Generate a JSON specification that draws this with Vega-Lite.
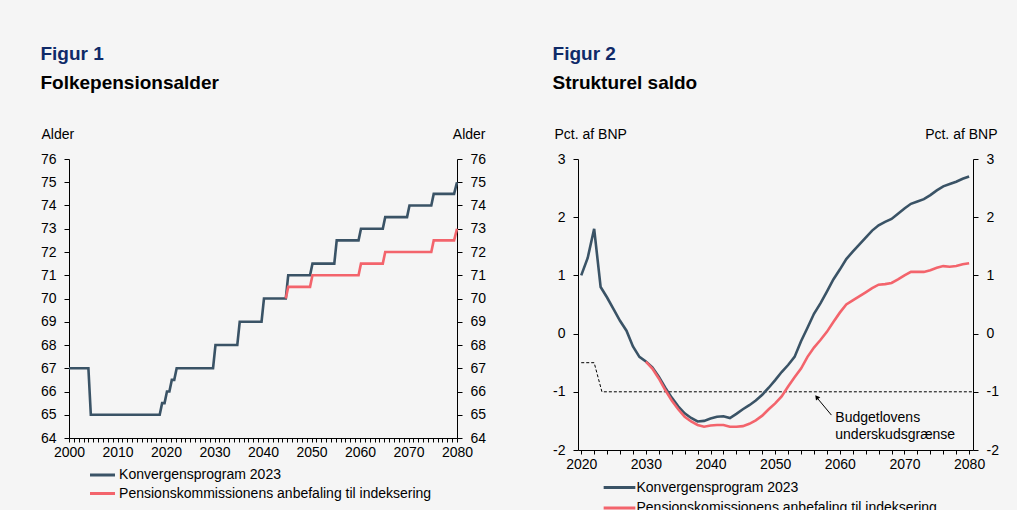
{
  "$schema": "https://vega.github.io/schema/vega-lite/v6.json",
  "padding": {"left": 40, "top": 45, "right": 20, "bottom": 0},
  "background": "#f5f5f5",
  "spacing": 66,
  "datasets": {
    "pension": [
      {"year": 2000, "value": 67, "serie": "Konvergensprogram 2023"},
      {"year": 2004, "value": 67, "serie": "Konvergensprogram 2023"},
      {"year": 2004.5, "value": 65, "serie": "Konvergensprogram 2023"},
      {"year": 2018.7, "value": 65, "serie": "Konvergensprogram 2023"},
      {"year": 2019.2, "value": 65.5, "serie": "Konvergensprogram 2023"},
      {"year": 2019.7, "value": 65.5, "serie": "Konvergensprogram 2023"},
      {"year": 2020.2, "value": 66, "serie": "Konvergensprogram 2023"},
      {"year": 2020.7, "value": 66, "serie": "Konvergensprogram 2023"},
      {"year": 2021.2, "value": 66.5, "serie": "Konvergensprogram 2023"},
      {"year": 2021.7, "value": 66.5, "serie": "Konvergensprogram 2023"},
      {"year": 2022.2, "value": 67, "serie": "Konvergensprogram 2023"},
      {"year": 2029.7, "value": 67, "serie": "Konvergensprogram 2023"},
      {"year": 2030.2, "value": 68, "serie": "Konvergensprogram 2023"},
      {"year": 2034.7, "value": 68, "serie": "Konvergensprogram 2023"},
      {"year": 2035.2, "value": 69, "serie": "Konvergensprogram 2023"},
      {"year": 2039.7, "value": 69, "serie": "Konvergensprogram 2023"},
      {"year": 2040.2, "value": 70, "serie": "Konvergensprogram 2023"},
      {"year": 2044.7, "value": 70, "serie": "Konvergensprogram 2023"},
      {"year": 2045.2, "value": 71, "serie": "Konvergensprogram 2023"},
      {"year": 2049.7, "value": 71, "serie": "Konvergensprogram 2023"},
      {"year": 2050.2, "value": 71.5, "serie": "Konvergensprogram 2023"},
      {"year": 2054.7, "value": 71.5, "serie": "Konvergensprogram 2023"},
      {"year": 2055.2, "value": 72.5, "serie": "Konvergensprogram 2023"},
      {"year": 2059.7, "value": 72.5, "serie": "Konvergensprogram 2023"},
      {"year": 2060.2, "value": 73, "serie": "Konvergensprogram 2023"},
      {"year": 2064.7, "value": 73, "serie": "Konvergensprogram 2023"},
      {"year": 2065.2, "value": 73.5, "serie": "Konvergensprogram 2023"},
      {"year": 2069.7, "value": 73.5, "serie": "Konvergensprogram 2023"},
      {"year": 2070.2, "value": 74, "serie": "Konvergensprogram 2023"},
      {"year": 2074.7, "value": 74, "serie": "Konvergensprogram 2023"},
      {"year": 2075.2, "value": 74.5, "serie": "Konvergensprogram 2023"},
      {"year": 2079.4, "value": 74.5, "serie": "Konvergensprogram 2023"},
      {"year": 2080, "value": 75, "serie": "Konvergensprogram 2023"},
      {"year": 2044.7, "value": 70, "serie": "Pensionskommissionens anbefaling til indeksering"},
      {"year": 2045.2, "value": 70.5, "serie": "Pensionskommissionens anbefaling til indeksering"},
      {"year": 2049.7, "value": 70.5, "serie": "Pensionskommissionens anbefaling til indeksering"},
      {"year": 2050.2, "value": 71, "serie": "Pensionskommissionens anbefaling til indeksering"},
      {"year": 2059.7, "value": 71, "serie": "Pensionskommissionens anbefaling til indeksering"},
      {"year": 2060.2, "value": 71.5, "serie": "Pensionskommissionens anbefaling til indeksering"},
      {"year": 2064.7, "value": 71.5, "serie": "Pensionskommissionens anbefaling til indeksering"},
      {"year": 2065.2, "value": 72, "serie": "Pensionskommissionens anbefaling til indeksering"},
      {"year": 2074.7, "value": 72, "serie": "Pensionskommissionens anbefaling til indeksering"},
      {"year": 2075.2, "value": 72.5, "serie": "Pensionskommissionens anbefaling til indeksering"},
      {"year": 2079.4, "value": 72.5, "serie": "Pensionskommissionens anbefaling til indeksering"},
      {"year": 2080, "value": 73, "serie": "Pensionskommissionens anbefaling til indeksering"}
    ],
    "saldo": [
      {"year": 2020, "value": 1.0, "serie": "Konvergensprogram 2023"},
      {"year": 2021, "value": 1.3, "serie": "Konvergensprogram 2023"},
      {"year": 2022, "value": 1.8, "serie": "Konvergensprogram 2023"},
      {"year": 2023, "value": 0.8, "serie": "Konvergensprogram 2023"},
      {"year": 2024, "value": 0.62, "serie": "Konvergensprogram 2023"},
      {"year": 2025, "value": 0.42, "serie": "Konvergensprogram 2023"},
      {"year": 2026, "value": 0.22, "serie": "Konvergensprogram 2023"},
      {"year": 2027, "value": 0.05, "serie": "Konvergensprogram 2023"},
      {"year": 2028, "value": -0.22, "serie": "Konvergensprogram 2023"},
      {"year": 2029, "value": -0.4, "serie": "Konvergensprogram 2023"},
      {"year": 2030, "value": -0.48, "serie": "Konvergensprogram 2023"},
      {"year": 2031, "value": -0.58, "serie": "Konvergensprogram 2023"},
      {"year": 2032, "value": -0.74, "serie": "Konvergensprogram 2023"},
      {"year": 2033, "value": -0.93, "serie": "Konvergensprogram 2023"},
      {"year": 2034, "value": -1.1, "serie": "Konvergensprogram 2023"},
      {"year": 2035, "value": -1.25, "serie": "Konvergensprogram 2023"},
      {"year": 2036, "value": -1.37, "serie": "Konvergensprogram 2023"},
      {"year": 2037, "value": -1.45, "serie": "Konvergensprogram 2023"},
      {"year": 2038, "value": -1.51, "serie": "Konvergensprogram 2023"},
      {"year": 2039, "value": -1.5, "serie": "Konvergensprogram 2023"},
      {"year": 2040, "value": -1.46, "serie": "Konvergensprogram 2023"},
      {"year": 2041, "value": -1.43, "serie": "Konvergensprogram 2023"},
      {"year": 2042, "value": -1.42, "serie": "Konvergensprogram 2023"},
      {"year": 2043, "value": -1.45, "serie": "Konvergensprogram 2023"},
      {"year": 2044, "value": -1.38, "serie": "Konvergensprogram 2023"},
      {"year": 2045, "value": -1.3, "serie": "Konvergensprogram 2023"},
      {"year": 2046, "value": -1.23, "serie": "Konvergensprogram 2023"},
      {"year": 2047, "value": -1.15, "serie": "Konvergensprogram 2023"},
      {"year": 2048, "value": -1.05, "serie": "Konvergensprogram 2023"},
      {"year": 2049, "value": -0.93, "serie": "Konvergensprogram 2023"},
      {"year": 2050, "value": -0.8, "serie": "Konvergensprogram 2023"},
      {"year": 2051, "value": -0.66, "serie": "Konvergensprogram 2023"},
      {"year": 2052, "value": -0.54, "serie": "Konvergensprogram 2023"},
      {"year": 2053, "value": -0.4, "serie": "Konvergensprogram 2023"},
      {"year": 2054, "value": -0.13, "serie": "Konvergensprogram 2023"},
      {"year": 2055, "value": 0.1, "serie": "Konvergensprogram 2023"},
      {"year": 2056, "value": 0.34, "serie": "Konvergensprogram 2023"},
      {"year": 2057, "value": 0.52, "serie": "Konvergensprogram 2023"},
      {"year": 2058, "value": 0.72, "serie": "Konvergensprogram 2023"},
      {"year": 2059, "value": 0.93, "serie": "Konvergensprogram 2023"},
      {"year": 2060, "value": 1.1, "serie": "Konvergensprogram 2023"},
      {"year": 2061, "value": 1.28, "serie": "Konvergensprogram 2023"},
      {"year": 2062, "value": 1.41, "serie": "Konvergensprogram 2023"},
      {"year": 2063, "value": 1.53, "serie": "Konvergensprogram 2023"},
      {"year": 2064, "value": 1.65, "serie": "Konvergensprogram 2023"},
      {"year": 2065, "value": 1.77, "serie": "Konvergensprogram 2023"},
      {"year": 2066, "value": 1.86, "serie": "Konvergensprogram 2023"},
      {"year": 2067, "value": 1.92, "serie": "Konvergensprogram 2023"},
      {"year": 2068, "value": 1.97, "serie": "Konvergensprogram 2023"},
      {"year": 2069, "value": 2.06, "serie": "Konvergensprogram 2023"},
      {"year": 2070, "value": 2.15, "serie": "Konvergensprogram 2023"},
      {"year": 2071, "value": 2.23, "serie": "Konvergensprogram 2023"},
      {"year": 2072, "value": 2.27, "serie": "Konvergensprogram 2023"},
      {"year": 2073, "value": 2.31, "serie": "Konvergensprogram 2023"},
      {"year": 2074, "value": 2.38, "serie": "Konvergensprogram 2023"},
      {"year": 2075, "value": 2.46, "serie": "Konvergensprogram 2023"},
      {"year": 2076, "value": 2.53, "serie": "Konvergensprogram 2023"},
      {"year": 2077, "value": 2.57, "serie": "Konvergensprogram 2023"},
      {"year": 2078, "value": 2.61, "serie": "Konvergensprogram 2023"},
      {"year": 2079, "value": 2.66, "serie": "Konvergensprogram 2023"},
      {"year": 2080, "value": 2.7, "serie": "Konvergensprogram 2023"},
      {"year": 2030, "value": -0.48, "serie": "Pensionskomissionens anbefaling til indeksering"},
      {"year": 2031, "value": -0.6, "serie": "Pensionskomissionens anbefaling til indeksering"},
      {"year": 2032, "value": -0.77, "serie": "Pensionskomissionens anbefaling til indeksering"},
      {"year": 2033, "value": -0.97, "serie": "Pensionskomissionens anbefaling til indeksering"},
      {"year": 2034, "value": -1.15, "serie": "Pensionskomissionens anbefaling til indeksering"},
      {"year": 2035, "value": -1.3, "serie": "Pensionskomissionens anbefaling til indeksering"},
      {"year": 2036, "value": -1.43, "serie": "Pensionskomissionens anbefaling til indeksering"},
      {"year": 2037, "value": -1.51, "serie": "Pensionskomissionens anbefaling til indeksering"},
      {"year": 2038, "value": -1.57, "serie": "Pensionskomissionens anbefaling til indeksering"},
      {"year": 2039, "value": -1.6, "serie": "Pensionskomissionens anbefaling til indeksering"},
      {"year": 2040, "value": -1.58, "serie": "Pensionskomissionens anbefaling til indeksering"},
      {"year": 2041, "value": -1.57, "serie": "Pensionskomissionens anbefaling til indeksering"},
      {"year": 2042, "value": -1.57, "serie": "Pensionskomissionens anbefaling til indeksering"},
      {"year": 2043, "value": -1.6, "serie": "Pensionskomissionens anbefaling til indeksering"},
      {"year": 2044, "value": -1.6, "serie": "Pensionskomissionens anbefaling til indeksering"},
      {"year": 2045, "value": -1.59, "serie": "Pensionskomissionens anbefaling til indeksering"},
      {"year": 2046, "value": -1.55, "serie": "Pensionskomissionens anbefaling til indeksering"},
      {"year": 2047, "value": -1.49, "serie": "Pensionskomissionens anbefaling til indeksering"},
      {"year": 2048, "value": -1.41, "serie": "Pensionskomissionens anbefaling til indeksering"},
      {"year": 2049, "value": -1.3, "serie": "Pensionskomissionens anbefaling til indeksering"},
      {"year": 2050, "value": -1.2, "serie": "Pensionskomissionens anbefaling til indeksering"},
      {"year": 2051, "value": -1.08, "serie": "Pensionskomissionens anbefaling til indeksering"},
      {"year": 2052, "value": -0.91, "serie": "Pensionskomissionens anbefaling til indeksering"},
      {"year": 2053, "value": -0.75, "serie": "Pensionskomissionens anbefaling til indeksering"},
      {"year": 2054, "value": -0.6, "serie": "Pensionskomissionens anbefaling til indeksering"},
      {"year": 2055, "value": -0.4, "serie": "Pensionskomissionens anbefaling til indeksering"},
      {"year": 2056, "value": -0.24, "serie": "Pensionskomissionens anbefaling til indeksering"},
      {"year": 2057, "value": -0.11, "serie": "Pensionskomissionens anbefaling til indeksering"},
      {"year": 2058, "value": 0.03, "serie": "Pensionskomissionens anbefaling til indeksering"},
      {"year": 2059, "value": 0.2, "serie": "Pensionskomissionens anbefaling til indeksering"},
      {"year": 2060, "value": 0.36, "serie": "Pensionskomissionens anbefaling til indeksering"},
      {"year": 2061, "value": 0.5, "serie": "Pensionskomissionens anbefaling til indeksering"},
      {"year": 2062, "value": 0.57, "serie": "Pensionskomissionens anbefaling til indeksering"},
      {"year": 2063, "value": 0.64, "serie": "Pensionskomissionens anbefaling til indeksering"},
      {"year": 2064, "value": 0.71, "serie": "Pensionskomissionens anbefaling til indeksering"},
      {"year": 2065, "value": 0.78, "serie": "Pensionskomissionens anbefaling til indeksering"},
      {"year": 2066, "value": 0.84, "serie": "Pensionskomissionens anbefaling til indeksering"},
      {"year": 2067, "value": 0.85, "serie": "Pensionskomissionens anbefaling til indeksering"},
      {"year": 2068, "value": 0.87, "serie": "Pensionskomissionens anbefaling til indeksering"},
      {"year": 2069, "value": 0.93, "serie": "Pensionskomissionens anbefaling til indeksering"},
      {"year": 2070, "value": 1.0, "serie": "Pensionskomissionens anbefaling til indeksering"},
      {"year": 2071, "value": 1.06, "serie": "Pensionskomissionens anbefaling til indeksering"},
      {"year": 2072, "value": 1.06, "serie": "Pensionskomissionens anbefaling til indeksering"},
      {"year": 2073, "value": 1.06, "serie": "Pensionskomissionens anbefaling til indeksering"},
      {"year": 2074, "value": 1.09, "serie": "Pensionskomissionens anbefaling til indeksering"},
      {"year": 2075, "value": 1.13, "serie": "Pensionskomissionens anbefaling til indeksering"},
      {"year": 2076, "value": 1.16, "serie": "Pensionskomissionens anbefaling til indeksering"},
      {"year": 2077, "value": 1.15, "serie": "Pensionskomissionens anbefaling til indeksering"},
      {"year": 2078, "value": 1.16, "serie": "Pensionskomissionens anbefaling til indeksering"},
      {"year": 2079, "value": 1.19, "serie": "Pensionskomissionens anbefaling til indeksering"},
      {"year": 2080, "value": 1.21, "serie": "Pensionskomissionens anbefaling til indeksering"}
    ],
    "graense": [
      {"year": 2020, "value": -0.5},
      {"year": 2022, "value": -0.5},
      {"year": 2023.2, "value": -1},
      {"year": 2080.6, "value": -1}
    ],
    "note": [
      {"year": 2059.3, "value": -1.45, "label": "Budgetlovens"},
      {"year": 2059.3, "value": -1.74, "label": "underskudsgrænse"}
    ],
    "arrow": [
      {"year": 2058.7, "value": -1.4, "year2": 2056.6, "value2": -1.12}
    ],
    "arrowhead": [
      {"year": 2056.5, "value": -1.1}
    ]
  },
  "hconcat": [
    {
      "title": {"text": "Figur 1", "subtitle": "Folkepensionsalder"},
      "width": 388,
      "height": 279,
      "layer": [
        {
          "data": {"name": "pension"},
          "mark": {"type": "line", "strokeWidth": 2.6},
          "encoding": {
            "x": {
              "field": "year", "type": "quantitative", "title": null,
              "scale": {"domain": [2000, 2080], "nice": false, "zero": false},
              "axis": {
                "values": [2000,2001,2002,2003,2004,2005,2006,2007,2008,2009,2010,2011,2012,2013,2014,2015,2016,2017,2018,2019,2020,2021,2022,2023,2024,2025,2026,2027,2028,2029,2030,2031,2032,2033,2034,2035,2036,2037,2038,2039,2040,2041,2042,2043,2044,2045,2046,2047,2048,2049,2050,2051,2052,2053,2054,2055,2056,2057,2058,2059,2060,2061,2062,2063,2064,2065,2066,2067,2068,2069,2070,2071,2072,2073,2074,2075,2076,2077,2078,2079,2080],
                "labelExpr": "datum.value % 10 === 0 ? '' + datum.value : ''",
                "tickSize": 4, "labelPadding": 3, "labelOverlap": false, "labelFlush": false
              }
            },
            "y": {
              "field": "value", "type": "quantitative",
              "scale": {"domain": [64, 76], "nice": false, "zero": false},
              "axis": {
                "orient": "left", "title": "Alder", "values": [64,65,66,67,68,69,70,71,72,73,74,75,76],
                "labelExpr": "'' + datum.value",
                "titleAngle": 0, "titleAlign": "left", "titleBaseline": "middle", "titleX": -28, "titleY": -25,
                "tickSize": 5, "labelPadding": 8
              }
            },
            "color": {
              "field": "serie", "type": "nominal",
              "scale": {"domain": ["Konvergensprogram 2023", "Pensionskommissionens anbefaling til indeksering"], "range": ["#3a5366", "#f3646c"]},
              "legend": {"orient": "none", "legendX": 25.5, "legendY": 308, "direction": "vertical", "title": null, "symbolType": "M-2,0H2", "symbolSize": 156, "symbolStrokeWidth": 3, "labelOffset": 8.6, "rowPadding": 3.5, "padding": 0}
            }
          }
        },
        {
          "mark": {"type": "rule", "opacity": 0},
          "encoding": {
            "y": {
              "datum": 70, "type": "quantitative",
              "scale": {"domain": [64, 76], "nice": false, "zero": false},
              "axis": {
                "orient": "right", "title": "Alder", "values": [64,65,66,67,68,69,70,71,72,73,74,75,76],
                "labelExpr": "'' + datum.value",
                "titleAngle": 0, "titleAlign": "right", "titleBaseline": "middle", "titleX": 28, "titleY": -25,
                "tickSize": 5, "labelPadding": 8
              }
            }
          }
        }
      ],
      "resolve": {"scale": {"y": "independent"}}
    },
    {
      "title": {"text": "Figur 2", "subtitle": "Strukturel saldo"},
      "width": 395,
      "height": 291,
      "layer": [
        {
          "mark": {"type": "rule", "color": "#595959", "strokeWidth": 1.5},
          "encoding": {
            "y": {
              "datum": 0, "type": "quantitative",
              "scale": {"domain": [-2, 3], "nice": false, "zero": false},
              "axis": {
                "orient": "right", "title": "Pct. af BNP", "values": [-2,-1,0,1,2,3],
                "labelExpr": "'' + datum.value",
                "titleAngle": 0, "titleAlign": "right", "titleBaseline": "middle", "titleX": 24, "titleY": -25,
                "tickSize": 5, "labelPadding": 8
              }
            }
          }
        },
        {
          "encoding": {
            "x": {
              "field": "year", "type": "quantitative", "title": null,
              "scale": {"domain": [2019.5, 2080.6], "nice": false, "zero": false},
              "axis": {
                "values": [2020,2022,2024,2026,2028,2030,2032,2034,2036,2038,2040,2042,2044,2046,2048,2050,2052,2054,2056,2058,2060,2062,2064,2066,2068,2070,2072,2074,2076,2078,2080],
                "labelExpr": "datum.value % 10 === 0 ? '' + datum.value : ''",
                "tickSize": 4, "labelPadding": 3, "labelOverlap": false, "labelFlush": false
              }
            },
            "y": {
              "field": "value", "type": "quantitative",
              "scale": {"domain": [-2, 3], "nice": false, "zero": false},
              "axis": {
                "orient": "left", "title": "Pct. af BNP", "values": [-2,-1,0,1,2,3],
                "labelExpr": "'' + datum.value",
                "titleAngle": 0, "titleAlign": "left", "titleBaseline": "middle", "titleX": -24, "titleY": -25,
                "tickSize": 5, "labelPadding": 8
              }
            }
          },
          "layer": [
            {
              "data": {"name": "graense"},
              "mark": {"type": "line", "color": "#000", "strokeWidth": 1, "strokeDash": [3, 2]}
            },
            {
              "data": {"name": "saldo"},
              "mark": {"type": "line", "strokeWidth": 2.6},
              "encoding": {
                "color": {
                  "field": "serie", "type": "nominal",
                  "scale": {"domain": ["Konvergensprogram 2023", "Pensionskomissionens anbefaling til indeksering"], "range": ["#3a5366", "#f3646c"]},
                  "legend": {"orient": "none", "legendX": 32, "legendY": 319, "direction": "vertical", "title": null, "symbolType": "M-2,0H2", "symbolSize": 251, "symbolStrokeWidth": 3, "labelOffset": 7.5, "rowPadding": 3.5, "padding": 0}
                }
              }
            },
            {
              "data": {"name": "arrow"},
              "mark": {"type": "rule", "color": "#000", "strokeWidth": 1},
              "encoding": {
                "x2": {"field": "year2"},
                "y2": {"field": "value2"}
              }
            },
            {
              "data": {"name": "arrowhead"},
              "mark": {"type": "point", "shape": "triangle", "filled": true, "color": "#000", "size": 30, "angle": 322, "opacity": 1}
            },
            {
              "data": {"name": "note"},
              "mark": {"type": "text", "align": "left", "baseline": "middle", "fontSize": 14, "color": "#000", "font": "Liberation Sans"},
              "encoding": {
                "text": {"field": "label"}
              }
            }
          ]
        }
      ],
      "resolve": {"scale": {"y": "independent"}}
    }
  ],
  "resolve": {"scale": {"color": "independent"}, "legend": {"color": "independent"}},
  "config": {
    "view": {"stroke": null},
    "font": "Liberation Sans",
    "axis": {
      "labelFont": "Liberation Sans", "labelFontSize": 14, "labelColor": "#000",
      "titleFont": "Liberation Sans", "titleFontSize": 14, "titleFontWeight": "normal", "titleColor": "#000",
      "domainColor": "#000", "tickColor": "#000", "grid": false
    },
    "legend": {
      "labelFont": "Liberation Sans", "labelFontSize": 14, "labelColor": "#000", "labelLimit": 400
    },
    "title": {
      "anchor": "start", "frame": "bounds", "font": "Liberation Sans", "fontSize": 19, "fontWeight": "bold", "color": "#0f2a68",
      "subtitleFont": "Liberation Sans", "subtitleFontSize": 19, "subtitleFontWeight": "bold", "subtitleColor": "#000",
      "subtitlePadding": 10, "offset": 34
    }
  }
}
